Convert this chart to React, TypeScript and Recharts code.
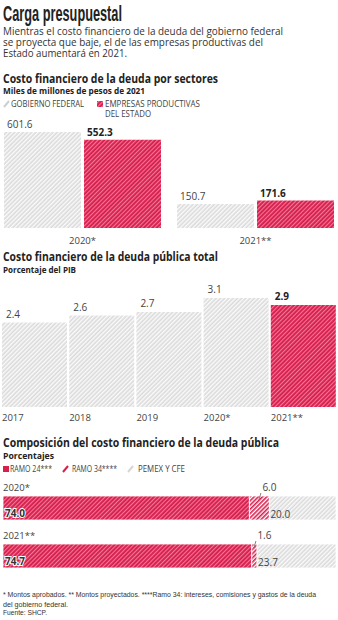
import React from 'react';
import { BarChart, Bar, XAxis, YAxis, Cell, LabelList } from 'recharts';

// ---- data ----
const sectorCategories = ['2020*', '2021**'];
const gobiernoValues = [601.6, 150.7];
const empresasValues = [552.3, 171.6];

const pibYears = ['2017', '2018', '2019', '2020*', '2021**'];
const pibValues = [2.4, 2.6, 2.7, 3.1, 2.9];

const compYears = ['2020*', '2021**'];
const ramo24Values = [74.0, 74.7];
const ramo34Values = [6.0, 1.6];
const pemexValues = [20.0, 23.7];

const sectorData = sectorCategories.map((c, i) => ({ cat: c, gob: gobiernoValues[i], emp: empresasValues[i] }));
const pibData = pibYears.map((y, i) => ({ year: y, value: pibValues[i] }));
const compData = compYears.map((y, i) => ({ y, r24: ramo24Values[i], r34: ramo34Values[i], pemex: pemexValues[i] }));

const RED = '#d81e4d';
const RED_STRIPE = '#f07a97';
const GRAY = '#dadada';
const GRAY_STRIPE = '#fbfbfb';
const FONT = '"Open Sans", "DejaVu Sans", sans-serif';
const NARROW = '"Liberation Sans Narrow", "Liberation Sans", sans-serif';

const Patterns = ({ p }: { p: string }) => (
  <defs>
    <pattern id={p + 'gray'} patternUnits="userSpaceOnUse" width="3" height="3" patternTransform="rotate(45)">
      <rect x="0" y="0" width="3" height="3" fill={GRAY} />
      <rect x="0" y="0" width="1.4" height="3" fill={GRAY_STRIPE} />
    </pattern>
    <pattern id={p + 'red'} patternUnits="userSpaceOnUse" width="3" height="3" patternTransform="rotate(45)">
      <rect x="0" y="0" width="3" height="3" fill={RED} />
      <rect x="0" y="0" width="1.1" height="3" fill={RED_STRIPE} />
    </pattern>
    <pattern id={p + 'redw'} patternUnits="userSpaceOnUse" width="3" height="3" patternTransform="rotate(45)">
      <rect x="0" y="0" width="3" height="3" fill="#ffffff" />
      <rect x="0" y="0" width="1.6" height="3" fill={RED} />
    </pattern>
  </defs>
);

const T = ({ x, y, w, size, weight = 400, fill = '#333', children, family = FONT }: any) => (
  <text x={x} y={y} fontSize={size} fontWeight={weight} fill={fill} fontFamily={family}
    textLength={w} lengthAdjust="spacingAndGlyphs">{children}</text>
);

const fmt = (v: any) => Number(v).toFixed(1);

const topLeftLabel = (bold: boolean) => (props: any) => {
  const { x, y, value } = props;
  return (
    <text x={x + 3} y={y - 4} fontSize={10} fontWeight={bold ? 700 : 400} fill={bold ? '#222' : '#444'} fontFamily={FONT}>
      {fmt(value)}
    </text>
  );
};

const pibValueLabel = (props: any) => {
  const { x, y, value, index } = props;
  const bold = index === pibValues.length - 1;
  return (
    <text x={x + 4} y={y - 5} fontSize={10} fontWeight={bold ? 700 : 400} fill={bold ? '#222' : '#444'} fontFamily={FONT}>
      {fmt(value)}
    </text>
  );
};

const pibYearLabel = (props: any) => {
  const { x, y, height, value } = props;
  return (
    <text x={x} y={y + height + 13.5} fontSize={9.5} fill="#444" fontFamily={FONT}>{value}</text>
  );
};

const catLabel = (props: any) => {
  const { x, y, value } = props;
  return <text x={x} y={y - 5} fontSize={9.5} fill="#444" fontFamily={FONT}>{value}</text>;
};

const r24Label = (props: any) => {
  const { x, y, height, value } = props;
  return (
    <text x={x + 2} y={y + height - 3} fontSize={10} fontWeight={700} fill="#333" stroke="#fff" strokeWidth={2}
      paintOrder="stroke" fontFamily={FONT}>{fmt(value)}</text>
  );
};

const r34Label = (props: any) => {
  const { x, y, width, value } = props;
  const cx = x + width / 2;
  return (
    <g>
      <line x1={cx + 1.5} y1={y - 3} x2={cx - 0.5} y2={y + 4} stroke="#666" strokeWidth={0.8} />
      <text x={cx + 3} y={y - 5} fontSize={10} fill="#444" fontFamily={FONT}>{fmt(value)}</text>
    </g>
  );
};

const pemexLabel = (props: any) => {
  const { x, y, height, value } = props;
  return <text x={x + 1} y={y + height - 2.5} fontSize={10} fill="#444" fontFamily={FONT}>{fmt(value)}</text>;
};

export default function App() {
  return (
    <div style={{ position: 'absolute', left: 0, top: 0, width: 338, height: 620, overflow: 'hidden', background: '#fff' }}>
      <svg width={338} height={620} style={{ position: 'absolute', left: 0, top: 0 }}>
        <Patterns p="hdr" />
        <T x={3} y={21} w={119} size={22} weight={700} fill="#222" family={NARROW}>Carga presupuestal</T>
        <T x={3} y={35} w={280} size={10.5}>Mientras el costo financiero de la deuda del gobierno federal</T>
        <T x={3} y={46} w={260} size={10.5}>se proyecta que baje, el de las empresas productivas del</T>
        <T x={3} y={57} w={124} size={10.5}>Estado aumentará en 2021.</T>

        <T x={3} y={82.5} w={215} size={12} weight={700} fill="#222">Costo financiero de la deuda por sectores</T>
        <T x={3} y={94} w={142} size={9.5} weight={700} fill="#222">Miles de millones de pesos de 2021</T>
        <line x1={4} y1={107} x2={9} y2={101} stroke="#cfcfcf" strokeWidth={2} />
        <T x={11} y={107} w={73} size={9} fill="#444">GOBIERNO FEDERAL</T>
        <rect x={97} y={101} width={6} height={6} fill="url(#hdrred)" />
        <T x={105} y={107} w={95} size={9} fill="#444">EMPRESAS PRODUCTIVAS</T>
        <T x={105} y={117} w={46} size={9} fill="#444">DEL ESTADO</T>

        <T x={3} y={261} w={215} size={12} weight={700} fill="#222">Costo  financiero de la deuda pública total</T>
        <T x={3} y={273} w={73} size={9.5} weight={700} fill="#222">Porcentaje del PIB</T>

        <T x={3} y={447} w={276} size={12} weight={700} fill="#222">Composición del costo financiero de la deuda pública</T>
        <T x={3} y={458.5} w={51} size={9.5} weight={700} fill="#222">Porcentajes</T>
        <rect x={3} y={466} width={6} height={6} fill={RED} />
        <T x={10} y={472} w={42} size={9} fill="#444">RAMO 24***</T>
        <line x1={63} y1={472} x2={68} y2={466} stroke={RED} strokeWidth={2} />
        <T x={72} y={472} w={45} size={9} fill="#444">RAMO 34****</T>
        <line x1={128} y1={472} x2={133} y2={466} stroke="#d6d6d6" strokeWidth={2} />
        <T x={138} y={472} w={47} size={9} fill="#444">PEMEX Y CFE</T>

        <T x={3} y={597} w={313} size={7.5} fill="#333" family={NARROW}>* Montos aprobados. ** Montos proyectados. ****Ramo 34: intereses, comisiones y gastos de la deuda</T>
        <T x={3} y={606.5} w={65} size={7.5} fill="#333" family={NARROW}>del gobierno federal.</T>
        <T x={3} y={615} w={44} size={7.5} fill="#333" family={NARROW}>Fuente: SHCP.</T>
      </svg>

      <div style={{ position: 'absolute', left: 0, top: 110 }}>
        <BarChart width={338} height={140} data={sectorData} margin={{ top: 22, right: -4, left: -4, bottom: 0 }}
          barGap={3} barCategoryGap={8}>
          <Patterns p="c1" />
          <XAxis dataKey="cat" axisLine={false} tickLine={false} tickMargin={3} height={22}
            tick={{ fontSize: 9.5, fill: '#444', fontFamily: FONT }} interval={0} />
          <YAxis hide domain={[0, 601.6]} />
          <Bar dataKey="gob" fill="url(#c1gray)" isAnimationActive={false}>
            <LabelList dataKey="gob" content={topLeftLabel(false)} />
          </Bar>
          <Bar dataKey="emp" fill="url(#c1red)" isAnimationActive={false}>
            <LabelList dataKey="emp" content={topLeftLabel(true)} />
          </Bar>
        </BarChart>
      </div>

      <div style={{ position: 'absolute', left: 0, top: 278 }}>
        <BarChart width={338} height={150} data={pibData} margin={{ top: 20, right: 1, left: 1, bottom: 21 }}
          barCategoryGap={1}>
          <Patterns p="c2" />
          <XAxis dataKey="year" hide />
          <YAxis hide domain={[0, 3.1]} />
          <Bar dataKey="value" isAnimationActive={false}>
            {pibData.map((d, i) => (
              <Cell key={d.year} fill={i === pibData.length - 1 ? 'url(#c2red)' : 'url(#c2gray)'} />
            ))}
            <LabelList dataKey="value" content={pibValueLabel} />
            <LabelList dataKey="year" content={pibYearLabel} />
          </Bar>
        </BarChart>
      </div>

      <div style={{ position: 'absolute', left: 0, top: 474 }}>
        <BarChart width={338} height={106} data={compData} layout="vertical"
          margin={{ top: 10, right: 2, left: 3, bottom: 0 }} barSize={24}>
          <Patterns p="c3" />
          <XAxis type="number" hide domain={[0, 100]} />
          <YAxis type="category" dataKey="y" hide />
          <Bar dataKey="r24" stackId="a" fill="url(#c3red)" stroke="#fff" strokeWidth={0.8} isAnimationActive={false}>
            <LabelList dataKey="r24" content={r24Label} />
            <LabelList dataKey="y" content={catLabel} />
          </Bar>
          <Bar dataKey="r34" stackId="a" fill="url(#c3redw)" stroke="#fff" strokeWidth={0.8} isAnimationActive={false}>
            <LabelList dataKey="r34" content={r34Label} />
          </Bar>
          <Bar dataKey="pemex" stackId="a" fill="url(#c3gray)" stroke="#fff" strokeWidth={0.8} isAnimationActive={false}>
            <LabelList dataKey="pemex" content={pemexLabel} />
          </Bar>
        </BarChart>
      </div>
    </div>
  );
}
